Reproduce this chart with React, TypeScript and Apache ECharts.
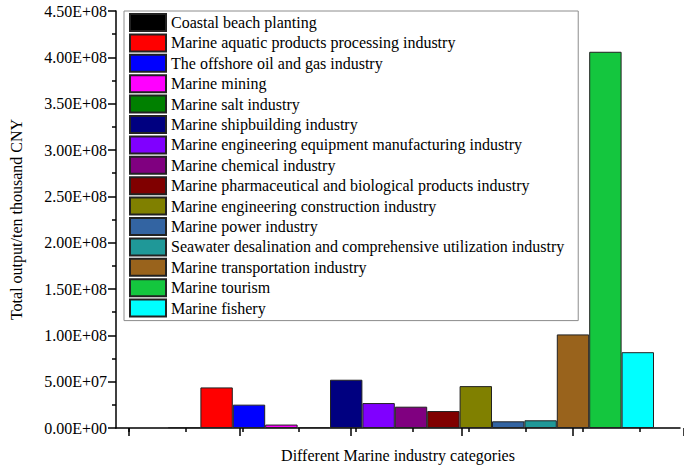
import React, { useEffect, useRef } from "react";
import * as echarts from "echarts";

const categories = [
  "Coastal beach planting",
  "Marine aquatic products processing industry",
  "The offshore oil and gas industry",
  "Marine mining",
  "Marine salt industry",
  "Marine shipbuilding industry",
  "Marine engineering equipment manufacturing industry",
  "Marine chemical industry",
  "Marine pharmaceutical and biological products industry",
  "Marine engineering construction industry",
  "Marine power industry",
  "Seawater desalination and comprehensive utilization industry",
  "Marine transportation industry",
  "Marine tourism",
  "Marine fishery",
];

const values = [
  8.0e5, 4.38e7, 2.52e7, 3.7e6, 1.0e6, 5.21e7, 2.69e7, 2.3e7, 1.83e7, 4.52e7,
  7.2e6, 8.3e6, 1.01e8, 4.06e8, 8.18e7,
];

const colors = [
  "#000000", "#FF0000", "#0000FF", "#FF00FF", "#008000", "#000080", "#8000FF",
  "#800080", "#800000", "#808000", "#3364A2", "#1F9898", "#99631C", "#14C63E",
  "#00FFFF",
];

const yMax = 4.5e8;
const yInterval = 5e7;
const xTitle = "Different Marine industry categories";
const yTitle = "Total output/ten thousand CNY";

const FONT = "'Liberation Serif', 'Times New Roman', serif";

function sci(v: number): string {
  const [m, e] = v.toExponential(2).split("e");
  const sign = e[0] === "-" ? "-" : "+";
  const digits = e.replace(/[+-]/, "").padStart(2, "0");
  return m + "E" + sign + digits;
}

export default function App() {
  const ref = useRef<HTMLDivElement>(null);
  useEffect(() => {
    if (!ref.current) return;
    const chart = echarts.init(ref.current, null, { renderer: "svg" });
    const hiddenY = (gi: number) => ({
      type: "value",
      gridIndex: gi,
      min: 0,
      max: yMax,
      show: false,
    });
    const series = categories.map((name, i) => ({
      name,
      type: "bar",
      xAxisIndex: 3,
      yAxisIndex: 3,
      stack: "all",
      barCategoryGap: "0%",
      data: values.map((v, j) => (j === i ? v : null)),
      itemStyle: { color: colors[i], borderColor: "#222", borderWidth: 1 },
    }));
    chart.setOption({
      animation: false,
      backgroundColor: "#fff",
      textStyle: { fontFamily: FONT, color: "#000" },
      grid: [
        { left: 111, right: 4, top: 11, bottom: 40 },
        { left: 129, width: 510.3, top: 11, bottom: 40 },
        { left: 129, width: 567, top: 11, bottom: 40 },
        { left: 168, width: 486, top: 11, bottom: 40 },
      ],
      xAxis: [
        {
          type: "value",
          gridIndex: 0,
          min: 0,
          max: 1,
          axisLine: { show: true, lineStyle: { color: "#000", width: 1.5 } },
          axisTick: { show: false },
          axisLabel: { show: false },
          splitLine: { show: false },
          name: xTitle,
          nameLocation: "middle",
          nameGap: 19,
          nameTextStyle: { fontFamily: FONT, fontSize: 16, color: "#000", verticalAlign: "top" },
        },
        {
          type: "value",
          gridIndex: 1,
          min: 0,
          max: 9,
          interval: 1,
          axisLine: { show: false },
          axisTick: { show: true, length: 4, lineStyle: { color: "#000", width: 1.5 } },
          axisLabel: { show: false },
          splitLine: { show: false },
        },
        {
          type: "value",
          gridIndex: 2,
          min: 0,
          max: 10,
          interval: 2,
          axisLine: { show: false },
          axisTick: { show: true, length: 8, lineStyle: { color: "#000", width: 1.5 } },
          axisLabel: { show: false },
          splitLine: { show: false },
        },
        {
          type: "category",
          gridIndex: 3,
          data: categories,
          show: false,
        },
      ],
      yAxis: [
        {
          type: "value",
          gridIndex: 0,
          min: 0,
          max: yMax,
          interval: yInterval,
          axisLine: { show: true, lineStyle: { color: "#000", width: 1.5 } },
          axisTick: { show: true, length: 8, lineStyle: { color: "#000", width: 1.5 } },
          minorTick: { show: true, splitNumber: 2, length: 4, lineStyle: { color: "#000", width: 1.5 } },
          splitLine: { show: false },
          axisLabel: {
            formatter: (v: number) => sci(v),
            fontFamily: FONT,
            fontSize: 16,
            color: "#000",
            margin: 9,
          },
          name: yTitle,
          nameLocation: "middle",
          nameGap: 92,
          nameTextStyle: { fontFamily: FONT, fontSize: 16, color: "#000" },
        },
        hiddenY(1),
        hiddenY(2),
        hiddenY(3),
      ],
      legend: {
        show: true,
        orient: "vertical",
        left: 124,
        top: 11,
        padding: [2, 14, 3, 5],
        itemWidth: 36,
        itemHeight: 17,
        itemGap: 1.4,
        icon: "rect",
        borderColor: "#8c8c8c",
        borderWidth: 1,
        backgroundColor: "#fff",
        data: categories,
        selectedMode: false,
        textStyle: { fontFamily: FONT, fontSize: 16, color: "#000" },
      },
      series,
    });
    return () => chart.dispose();
  }, []);
  return (
    <div
      ref={ref}
      style={{ position: "fixed", left: 0, top: 0, width: 684, height: 468 }}
    />
  );
}
